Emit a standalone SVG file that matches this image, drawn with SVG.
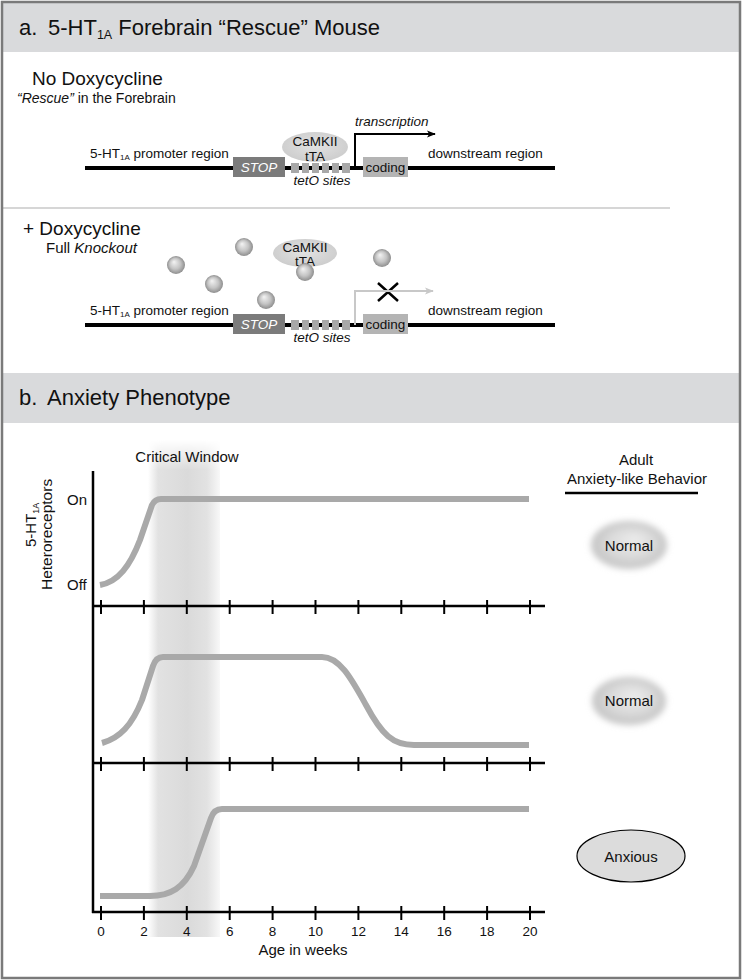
<svg xmlns="http://www.w3.org/2000/svg" width="743" height="980" viewBox="0 0 743 980">
<defs>
<style>
text{font-family:"Liberation Sans",Arial,Helvetica,sans-serif;fill:#111}
.hdr{font-size:22px}
.c{font-size:13.5px}
.it{font-style:italic}
.mid{text-anchor:middle}
.band{fill:#d9dadc}
.dna{stroke:#000;stroke-width:4}
.curve{fill:none;stroke:#a9a9a9;stroke-width:6;stroke-linejoin:round;stroke-linecap:butt}
.axis{stroke:#000;stroke-width:2.5;fill:none}
.tick{stroke:#000;stroke-width:2;fill:none}
.lbl{font-size:15px}
.num{font-size:13.5px;text-anchor:middle}
.teto{fill:#a8a8a8}
.sphere{fill:url(#sph)}
</style>
<radialGradient id="sph" cx="50%" cy="50%" r="50%" fx="38%" fy="32%">
<stop offset="0" stop-color="#f4f4f4"/>
<stop offset="0.6" stop-color="#c4c4c4"/>
<stop offset="1" stop-color="#8e8e8e"/>
</radialGradient>
<radialGradient id="ell" cx="50%" cy="45%" r="55%">
<stop offset="0" stop-color="#e2e2e2"/>
<stop offset="1" stop-color="#cdcdcd"/>
</radialGradient>
<radialGradient id="blob" cx="50%" cy="50%" r="50%" fx="58%" fy="38%">
<stop offset="0" stop-color="#ececec"/>
<stop offset="0.6" stop-color="#dadada"/>
<stop offset="1" stop-color="#c2c2c2"/>
</radialGradient>
<filter id="soft" x="-25%" y="-35%" width="150%" height="170%">
<feGaussianBlur stdDeviation="3"/>
</filter>
<linearGradient id="cw" x1="0" y1="0" x2="1" y2="0">
<stop offset="0" stop-color="#ffffff"/>
<stop offset="0.14" stop-color="#e2e2e2"/>
<stop offset="0.55" stop-color="#dadada"/>
<stop offset="0.82" stop-color="#e2e2e2"/>
<stop offset="1" stop-color="#f8f8f8"/>
</linearGradient>
<linearGradient id="cwfade" x1="0" y1="0" x2="0" y2="1">
<stop offset="0" stop-color="#000"/>
<stop offset="0.06" stop-color="#fff"/>
<stop offset="1" stop-color="#fff"/>
</linearGradient>
<mask id="cwm" maskUnits="userSpaceOnUse" x="140" y="438" width="90" height="505">
<rect x="140" y="440" width="90" height="497" fill="url(#cwfade)"/>
</mask>
<marker id="ah" viewBox="0 0 10 10" refX="9" refY="5" markerWidth="9" markerHeight="9" markerUnits="userSpaceOnUse" orient="auto">
<path d="M0,1 L10,5 L0,9 L2.5,5 Z" fill="#000"/>
</marker>
<marker id="ahg" viewBox="0 0 10 10" refX="9" refY="5" markerWidth="9" markerHeight="9" markerUnits="userSpaceOnUse" orient="auto">
<path d="M0,1 L10,5 L0,9 L2.5,5 Z" fill="#c8c8c8"/>
</marker>
<path id="ticks" d="M101,-6v14M143.9,-6v14M186.8,-6v14M229.7,-6v14M272.6,-6v14M315.5,-6v14M358.4,-6v14M401.3,-6v14M444.2,-6v14M487.1,-6v14M530,-6v14"/>
</defs>

<rect x="0" y="0" width="743" height="980" fill="#fff"/>

<!-- Panel a header -->
<g id="header-a">
<rect class="band" x="2" y="2" width="738" height="50"/>
<text class="hdr" x="19" y="35">a.<tspan x="48">5-HT</tspan><tspan font-size="12.5" dy="4">1A</tspan><tspan dy="-4"> Forebrain “Rescue” Mouse</tspan></text>
</g>

<!-- No doxycycline -->
<g id="no-dox">
<text x="32" y="85" font-size="19">No Doxycycline</text>
<text x="17" y="103" font-size="14"><tspan class="it">“Rescue”</tspan> in the Forebrain</text>
<line class="dna" x1="85" y1="168" x2="555" y2="168"/>
<text class="c" x="90" y="158">5-HT<tspan font-size="8" dy="2">1A</tspan><tspan dy="-2"> promoter region</tspan></text>
<text class="c" x="428" y="158">downstream region</text>
<g id="stop-1">
<rect x="233" y="157" width="52" height="20" fill="#7b7b7b"/>
<text class="c it mid" x="259" y="172" style="fill:#fff">STOP</text>
</g>
<g id="teto-1">
<rect class="teto" x="291" y="163" width="8" height="10"/>
<rect class="teto" x="302" y="163" width="7" height="10"/>
<rect class="teto" x="312" y="163" width="7" height="10"/>
<rect class="teto" x="322" y="163" width="7" height="10"/>
<rect class="teto" x="332" y="163" width="7" height="10"/>
<rect class="teto" x="342" y="163" width="8" height="10"/>
<text class="c it mid" x="322" y="185">tetO sites</text>
</g>
<g id="camkii-1">
<ellipse cx="315" cy="147" rx="33" ry="15" fill="url(#ell)"/>
<text class="c mid" x="315" y="146">CaMKII</text>
<text class="c mid" x="315" y="161">tTA</text>
</g>
<g id="coding-1">
<rect x="363" y="157" width="45" height="20" fill="#b4b4b4"/>
<text class="c mid" x="385.5" y="172">coding</text>
</g>
<text class="c it" x="355" y="126">transcription</text>
</g>

<line x1="3" y1="208" x2="670" y2="208" stroke="#c8c8c8" stroke-width="1.5"/>

<!-- Plus doxycycline -->
<g id="plus-dox">
<text x="23" y="235" font-size="19">+ Doxycycline</text>
<text x="46" y="253" font-size="15">Full <tspan class="it">Knockout</tspan></text>
<line class="dna" x1="85" y1="325" x2="555" y2="325"/>
<text class="c" x="90" y="315">5-HT<tspan font-size="8" dy="2">1A</tspan><tspan dy="-2"> promoter region</tspan></text>
<text class="c" x="428" y="315">downstream region</text>
<g id="stop-2">
<rect x="233" y="314" width="52" height="20" fill="#7b7b7b"/>
<text class="c it mid" x="259" y="329" style="fill:#fff">STOP</text>
</g>
<g id="teto-2">
<rect class="teto" x="291" y="320" width="8" height="10"/>
<rect class="teto" x="302" y="320" width="7" height="10"/>
<rect class="teto" x="312" y="320" width="7" height="10"/>
<rect class="teto" x="322" y="320" width="7" height="10"/>
<rect class="teto" x="332" y="320" width="7" height="10"/>
<rect class="teto" x="342" y="320" width="8" height="10"/>
<text class="c it mid" x="322" y="342">tetO sites</text>
</g>
<g id="coding-2">
<rect x="363" y="314" width="45" height="20" fill="#b4b4b4"/>
<text class="c mid" x="385.5" y="329">coding</text>
</g>
<g id="camkii-2">
<ellipse cx="305" cy="253" rx="32" ry="14" fill="url(#ell)"/>
<text class="c mid" x="305" y="252">CaMKII</text>
<text class="c mid" x="305" y="266">tTA</text>
</g>
<g id="doxycycline">
<circle class="sphere" cx="176" cy="265" r="9"/>
<circle class="sphere" cx="244" cy="247" r="9"/>
<circle class="sphere" cx="214" cy="284" r="9"/>
<circle class="sphere" cx="266" cy="300" r="9"/>
<circle class="sphere" cx="305" cy="272" r="9"/>
<circle class="sphere" cx="382" cy="258" r="9"/>
</g>
<path d="M378,283 L398,301 M398,283 L378,301" stroke="#000" stroke-width="2.5" fill="none"/>
</g>

<!-- connectors -->
<g id="connectors">
<path d="M355,168 V134 H435" fill="none" stroke="#000" stroke-width="2" marker-end="url(#ah)"/>
<path d="M355,325 V291 H433" fill="none" stroke="#c8c8c8" stroke-width="2" marker-end="url(#ahg)"/>
</g>

<!-- Panel b header -->
<g id="header-b">
<rect class="band" x="2" y="373" width="738" height="50"/>
<text class="hdr" x="19" y="405">b.<tspan x="47">Anxiety Phenotype</tspan></text>
</g>

<!-- Critical window -->
<g id="critical-window">
<rect x="148" y="440" width="72" height="497" fill="url(#cw)" mask="url(#cwm)"/>
<text class="lbl mid" x="187" y="462">Critical Window</text>
</g>

<!-- y-axis label -->
<g id="y-label">
<text class="lbl" transform="translate(36,547) rotate(-90)">5-HT<tspan font-size="9" dy="3">1A</tspan></text>
<text transform="translate(52,590) rotate(-90)" style="font-size:15.5px">Heteroreceptors</text>
<text class="lbl" x="67" y="505">On</text>
<text class="lbl" x="67" y="590">Off</text>
</g>

<!-- plots -->
<g id="plot-1">
<path class="curve" d="M100,585 C118,582 130,566 140,540 L152,505 Q155,499 161,499 L529,499"/>
</g>
<g id="plot-2">
<path class="curve" d="M102,743 C120,738 132,725 142,700 L153,666 Q156,657 163,657 L322,657 C340,657 352,680 366,705 C382,735 393,745 414,745 L529,745"/>
</g>
<g id="plot-3">
<path class="curve" d="M100,896 L150,896 C170,896 184,888 194,866 L211,818 Q214,809 222,809 L529,809"/>
</g>

<g id="axes">
<line class="axis" x1="93" y1="471" x2="93" y2="913"/>
<line class="axis" x1="92" y1="606" x2="545" y2="606"/>
<line class="axis" x1="92" y1="763" x2="545" y2="763"/>
<line class="axis" x1="92" y1="912" x2="545" y2="912"/>
<use href="#ticks" class="tick" transform="translate(0,606)"/>
<use href="#ticks" class="tick" transform="translate(0,763)"/>
<use href="#ticks" class="tick" transform="translate(0,912)"/>
<text class="num" x="101" y="936">0</text>
<text class="num" x="143.9" y="936">2</text>
<text class="num" x="186.8" y="936">4</text>
<text class="num" x="229.7" y="936">6</text>
<text class="num" x="272.6" y="936">8</text>
<text class="num" x="315.5" y="936">10</text>
<text class="num" x="358.4" y="936">12</text>
<text class="num" x="401.3" y="936">14</text>
<text class="num" x="444.2" y="936">16</text>
<text class="num" x="487.1" y="936">18</text>
<text class="num" x="530" y="936">20</text>
<text class="lbl mid" x="303" y="955">Age in weeks</text>
</g>

<!-- behaviour column -->
<g id="behavior-header">
<text class="lbl mid" x="636" y="465">Adult</text>
<text class="lbl mid" x="637" y="484">Anxiety-like Behavior</text>
<line x1="565" y1="493" x2="698" y2="493" stroke="#000" stroke-width="2.5"/>
</g>
<g id="normal-1">
<ellipse cx="629" cy="545" rx="38" ry="24" fill="url(#blob)" filter="url(#soft)"/>
<text class="lbl mid" x="629" y="551">Normal</text>
</g>
<g id="normal-2">
<ellipse cx="629" cy="701" rx="37" ry="24" fill="url(#blob)" filter="url(#soft)"/>
<text class="lbl mid" x="629" y="706">Normal</text>
</g>
<g id="anxious">
<ellipse cx="631" cy="856" rx="54" ry="26" fill="#dcdcdc" stroke="#000" stroke-width="1.2"/>
<text class="lbl mid" x="631" y="862">Anxious</text>
</g>

<rect x="2" y="2" width="738" height="976" fill="none" stroke="#7a7a7a" stroke-width="2.5"/>
</svg>
